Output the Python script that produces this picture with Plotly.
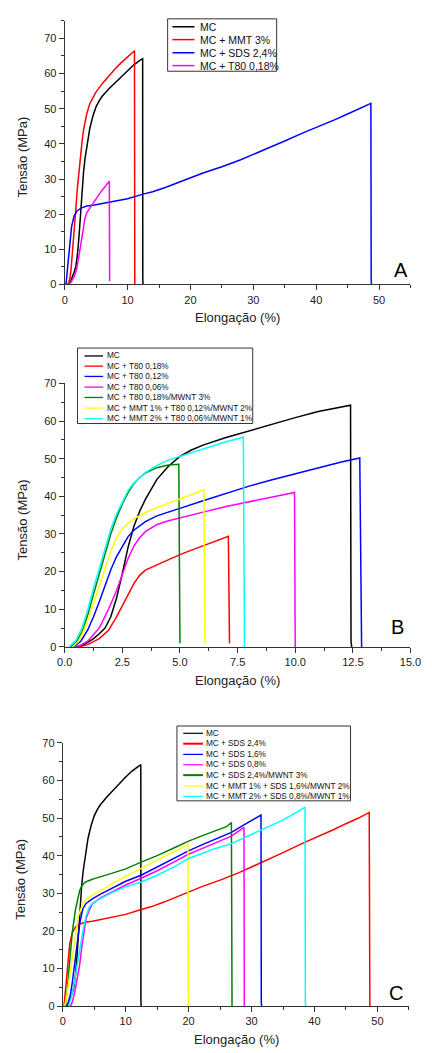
import plotly.graph_objects as go

W, H = 432, 1053

# ---------------- data (Elongação %, Tensão MPa) ----------------
MC_x = [0.5, 0.8, 1.0, 1.25, 1.5, 1.75, 2.0, 2.25, 2.5, 2.75, 3.0, 3.25, 3.5, 4.0, 4.5, 5.0,
        5.5, 6.0, 7.0, 8.0, 9.0, 10.0, 11.0, 12.0, 12.4, 12.42, 12.45]
MC_y = [0, 0.5, 1.2, 2.2, 3.5, 5.0, 8.0, 13.0, 19.5, 26.5, 32.0, 36.0, 39.2, 44.5, 48.0, 50.6,
        52.3, 53.6, 55.6, 57.4, 59.2, 60.9, 62.5, 63.8, 64.2, 1.5, 0]

MMT3_x = [0.5, 0.8, 1.0, 1.25, 1.5, 1.75, 2.0, 2.25, 2.5, 2.75, 3.0, 3.5, 4.0, 5.0, 6.0, 7.0,
          8.0, 9.0, 10.0, 11.0, 11.1, 11.15]
MMT3_y = [0, 1.5, 4.0, 9.0, 15.0, 21.0, 27.0, 32.0, 36.5, 40.5, 44.0, 48.5, 51.5, 54.8, 57.2, 59.4,
          61.3, 63.1, 64.8, 66.4, 66.5, 0]

SDS24_x = [0.2, 0.5, 0.8, 1.1, 1.5, 2.0, 2.7, 3.5, 4.7, 6.0, 8.0, 10.0, 12.45, 14.0, 16.0, 18.0,
           20.0, 22.0, 25.0, 26.8, 28.0, 30.0, 32.5, 35.0, 38.0, 40.0, 43.0, 45.0, 47.0, 48.7,
           48.75, 48.8]
SDS24_y = [0, 5.0, 11.0, 16.5, 19.5, 21.0, 21.8, 22.3, 22.6, 23.0, 23.6, 24.4, 25.7, 26.4, 27.6, 29.0,
           30.3, 31.7, 33.5, 34.6, 35.5, 37.0, 38.8, 40.8, 43.2, 44.6, 46.9, 48.5, 50.0, 51.5,
           1.0, 0]

T80_018_x = [0.6, 1.0, 1.5, 1.9, 2.25, 2.5, 2.75, 3.0, 3.25, 3.5, 4.0, 4.5, 5.0, 5.5, 6.0, 6.5,
             7.0, 7.1, 7.15]
T80_018_y = [0, 0.6, 2.2, 4.4, 8.0, 11.0, 14.0, 16.8, 19.0, 20.4, 21.8, 23.2, 24.5, 25.7, 26.9, 28.1,
             29.2, 29.4, 1.0]

T80_012_x = [0.4, 0.7, 1.0, 1.25, 1.5, 1.75, 2.0, 2.25, 2.5, 2.75, 3.0, 3.5, 4.0, 4.5, 5.0, 6.0,
             7.0, 8.0, 9.0, 10.0, 11.0, 12.0, 12.8, 12.85, 12.88]
T80_012_y = [0, 1.5, 4.5, 8.0, 12.0, 16.5, 20.5, 24.0, 26.5, 29.3, 31.0, 33.3, 34.8, 35.9, 36.8, 38.8,
             40.8, 42.7, 44.4, 46.0, 47.6, 49.1, 50.2, 1.0, 0]

T80_006_x = [0.55, 1.0, 1.5, 1.9, 2.25, 2.5, 2.75, 3.0, 3.25, 3.5, 4.0, 4.5, 5.0, 6.0, 7.0, 8.0,
             9.0, 9.9, 9.97, 10.0]
T80_006_y = [0, 1.5, 5.0, 10.0, 15.0, 19.5, 23.5, 26.8, 29.0, 30.6, 32.5, 33.5, 34.2, 35.8, 37.3, 38.6,
             39.8, 41.0, 41.0, 0]

T80_MWNT3_x = [0.25, 0.5, 0.75, 1.0, 1.25, 1.5, 1.75, 2.0, 2.25, 2.5, 2.75, 3.0, 3.25, 3.5, 4.0,
               4.5, 4.95, 5.0]
T80_MWNT3_y = [0, 1.2, 4.0, 8.5, 14.0, 19.5, 25.0, 30.0, 34.3, 38.0, 41.0, 43.3, 45.0, 46.2, 47.6,
               48.3, 48.5, 1.0]

MMT1_T80_x = [0.35, 0.6, 0.8, 1.0, 1.25, 1.5, 1.75, 2.0, 2.25, 2.5, 2.75, 3.0, 3.5, 4.0, 4.5, 5.0,
              5.5, 6.0, 6.04, 6.08]
MMT1_T80_y = [0, 1.5, 4.0, 7.0, 11.5, 16.0, 21.0, 25.5, 29.0, 31.3, 32.8, 34.0, 35.7, 37.0, 38.2, 39.3,
              40.4, 41.6, 41.7, 1.0]

MMT2_T80_x = [0.2, 0.5, 0.75, 1.0, 1.25, 1.5, 1.75, 2.0, 2.25, 2.5, 2.75, 3.0, 3.25, 3.5, 4.0, 4.5,
              5.0, 5.5, 6.0, 6.5, 7.0, 7.5, 7.75, 7.8]
MMT2_T80_y = [0, 1.8, 5.0, 9.8, 15.5, 21.0, 26.5, 31.3, 35.3, 38.6, 41.5, 43.5, 45.0, 46.3, 48.2, 49.6,
              50.6, 51.6, 52.6, 53.6, 54.5, 55.3, 55.7, 0]

SDS16_x = [0.7, 1.0, 1.2, 1.45, 1.67, 2.0, 2.2, 2.45, 2.7, 3.0, 3.2, 3.7, 4.7, 6.0, 8.0, 10.0,
           12.45, 15.0, 18.0, 19.9, 22.0, 24.0, 26.8, 28.8, 30.0, 31.5, 31.55, 31.6]
SDS16_y = [0, 1.5, 3.0, 5.5, 8.3, 13.0, 16.0, 19.5, 22.0, 24.5, 25.9, 27.3, 28.5, 29.8, 31.6, 33.2,
           34.8, 37.0, 39.6, 41.2, 42.8, 44.3, 46.2, 48.2, 49.4, 50.8, 1.0, 0]

SDS08_x = [1.2, 1.5, 2.0, 2.35, 2.68, 3.0, 3.2, 3.45, 3.7, 4.2, 4.7, 6.0, 8.0, 10.0, 12.45, 15.0,
           18.0, 19.9, 22.0, 24.0, 26.8, 28.8, 28.85]
SDS08_y = [0, 1.0, 4.5, 7.5, 11.0, 15.5, 18.0, 21.0, 23.3, 25.5, 27.2, 28.8, 30.6, 32.2, 34.0, 36.0,
           38.6, 40.3, 41.8, 43.2, 45.2, 47.5, 0]

SDS24_MWNT3_x = [0.4, 0.7, 1.0, 1.17, 1.5, 2.0, 2.5, 2.68, 3.0, 3.5, 4.2, 5.0, 7.0, 10.0, 12.45,
                 15.0, 18.0, 19.9, 22.0, 24.0, 26.0, 26.8, 26.85, 26.9]
SDS24_MWNT3_y = [0, 4.0, 10.0, 13.6, 19.5, 25.5, 29.5, 30.7, 31.9, 32.9, 33.4, 33.9, 34.9, 36.5, 38.3,
                 40.0, 42.3, 43.8, 45.2, 46.4, 47.7, 48.8, 1.0, 0]

MMT1_SDS_x = [0.3, 0.6, 1.0, 1.3, 1.67, 2.0, 2.5, 3.0, 3.45, 4.0, 4.7, 6.0, 8.0, 10.0, 12.45, 15.0,
              18.0, 19.9, 19.95]
MMT1_SDS_y = [0, 2.5, 7.0, 10.5, 15.3, 19.5, 24.0, 26.5, 27.9, 28.8, 29.5, 30.8, 32.7, 34.5, 36.5, 38.8,
              41.3, 43.0, 0]

MMT2_SDS_x = [0.9, 1.3, 1.8, 2.2, 2.68, 3.2, 3.7, 4.2, 4.7, 6.0, 8.0, 10.0, 12.45, 15.0, 18.0, 19.9,
              22.0, 24.0, 26.8, 30.0, 33.0, 35.0, 37.0, 38.5, 38.55, 38.6]
MMT2_SDS_y = [0, 2.0, 6.0, 10.0, 15.0, 20.0, 24.0, 26.3, 27.3, 28.6, 30.3, 31.7, 33.0, 34.8, 37.3, 39.2,
              40.5, 41.8, 43.2, 45.6, 47.8, 49.5, 51.4, 52.9, 1.0, 0]

A_names = ["MC", "MC + MMT 3%", "MC + SDS 2,4%", "MC + T80 0,18%"]
B_names = ["MC", "MC + T80 0,18%", "MC + T80 0,12%", "MC + T80 0,06%", "MC + T80 0,18%/MWNT 3%",
           "MC + MMT 1% + T80 0,12%/MWNT 2%", "MC + MMT 2% + T80 0,06%/MWNT 1%"]
C_names = ["MC", "MC + SDS 2,4%", "MC + SDS 1,6%", "MC + SDS 0,8%", "MC + SDS 2,4%/MWNT 3%",
           "MC + MMT 1% + SDS 1,6%/MWNT 2%", "MC + MMT 2% + SDS 0,8%/MWNT 1%"]

A_colors = ["#000000", "#FF0000", "#0000FF", "#FF00FF"]
BC_colors = ["#000000", "#FF0000", "#0000FF", "#FF00FF", "#008000", "#FFFF00", "#00FFFF"]

A_data = [(MC_x, MC_y), (MMT3_x, MMT3_y), (SDS24_x, SDS24_y), (T80_018_x, T80_018_y)]
B_data = [(MC_x, MC_y), (T80_018_x, T80_018_y), (T80_012_x, T80_012_y), (T80_006_x, T80_006_y),
          (T80_MWNT3_x, T80_MWNT3_y), (MMT1_T80_x, MMT1_T80_y), (MMT2_T80_x, MMT2_T80_y)]
C_data = [(MC_x, MC_y), (SDS24_x, SDS24_y), (SDS16_x, SDS16_y), (SDS08_x, SDS08_y),
          (SDS24_MWNT3_x, SDS24_MWNT3_y), (MMT1_SDS_x, MMT1_SDS_y), (MMT2_SDS_x, MMT2_SDS_y)]

# ---------------- layout helpers ----------------
def fx(px):
    return px / W


def fy(py):
    return 1 - py / H


FONT = "Arial, Liberation Sans, sans-serif"
AX = "#333333"

panels = [
    dict(letter="A", data=A_data, colors=A_colors, names=A_names,
         xpx=(59.3, 421.0), ypx=(15.0, 281.7), xr=[0, 55], xd=10, xm=5, yr=[0, 75], xfmt="d",
         letter_pos=(411, 267), ytitle_pos=(15, 153), xtitle_pos=(240, 315),
         leg_box=(167, 281, 13, 66), leg_line=(172, 195), leg_text=199,
         leg_rows=[21, 34, 47.3, 60.3], leg_font=10.5, leg_w=[1.5, 1.5, 1.5, 1.5]),
    dict(letter="B", data=B_data, colors=BC_colors, names=B_names,
         xpx=(59.3, 421.0), ypx=(381.7, 648.3), xr=[0, 15], xd=2.5, xm=1.25, yr=[0, 70], xfmt=".1f",
         letter_pos=(407, 628), ytitle_pos=(15, 520), xtitle_pos=(240, 682),
         leg_box=(72.7, 256, 346, 422.3), leg_line=(80, 99.5), leg_text=101.5,
         leg_rows=[354, 364.3, 374.7, 385.5, 396, 406.7, 417.5], leg_font=8.2,
         leg_w=[1.3] * 7),
    dict(letter="C", data=C_data, colors=BC_colors, names=C_names,
         xpx=(57.3, 419.3), ypx=(745.3, 1011.7), xr=[0, 55], xd=10, xm=5, yr=[0, 70], xfmt="d",
         letter_pos=(406, 998), ytitle_pos=(13.5, 883), xtitle_pos=(239, 1045),
         leg_box=(176.7, 358.3, 728.3, 804), leg_line=(183.3, 204), leg_text=205.5,
         leg_rows=[735.7, 746.2, 757, 767.5, 778, 789, 799.5], leg_font=8.2,
         leg_w=[1.2, 2.0, 1.2, 1.2, 2.0, 1.2, 1.2]),
]

fig = go.Figure()
shapes = []
annotations = []
layout_axes = {}

for i, p in enumerate(panels):
    n = "" if i == 0 else str(i + 1)
    xa, ya = "x" + n, "y" + n
    for (xs, ys), col in zip(p["data"], p["colors"]):
        fig.add_trace(go.Scatter(x=xs, y=ys, mode="lines", xaxis=xa, yaxis=ya,
                                 line=dict(color=col, width=1.5), showlegend=False,
                                 hoverinfo="skip"))
    tick_common = dict(showline=True, linecolor=AX, linewidth=1, ticks="outside", ticklen=5,
                       tickwidth=1, tickcolor=AX, showgrid=False, zeroline=False,
                       tickfont=dict(family=FONT, size=11, color="#222222"))
    layout_axes["xaxis" + n] = dict(
        domain=[fx(p["xpx"][0]), fx(p["xpx"][1])], range=p["xr"], anchor=ya,
        tick0=0, dtick=p["xd"], tickformat=p["xfmt"],
        minor=dict(tick0=0, dtick=p["xm"], ticks="outside", ticklen=3, tickcolor=AX, showgrid=False),
        **tick_common)
    layout_axes["yaxis" + n] = dict(
        domain=[fy(p["ypx"][1]), fy(p["ypx"][0])], range=p["yr"], anchor=xa,
        tick0=0, dtick=10,
        minor=dict(tick0=0, dtick=5, ticks="outside", ticklen=3, tickcolor=AX, showgrid=False),
        **tick_common)

    annotations.append(dict(text="Tensão (MPa)", x=fx(p["ytitle_pos"][0]), y=fy(p["ytitle_pos"][1]),
                            xref="paper", yref="paper", textangle=-90, showarrow=False,
                            xanchor="center", yanchor="middle",
                            font=dict(family=FONT, size=13, color="#222222")))
    annotations.append(dict(text="Elongação (%)", x=fx(p["xtitle_pos"][0]), y=fy(p["xtitle_pos"][1]),
                            xref="paper", yref="paper", showarrow=False,
                            xanchor="center", yanchor="middle",
                            font=dict(family=FONT, size=13, color="#222222")))
    annotations.append(dict(text=p["letter"], x=fx(p["letter_pos"][0]), y=fy(p["letter_pos"][1]),
                            xref="paper", yref="paper", showarrow=False,
                            xanchor="center", yanchor="middle",
                            font=dict(family=FONT, size=20, color="#000000")))
    x0, x1, y0, y1 = p["leg_box"]
    shapes.append(dict(type="rect", xref="paper", yref="paper", x0=fx(x0), x1=fx(x1),
                       y0=fy(y1), y1=fy(y0), line=dict(color=AX, width=1),
                       fillcolor="white", layer="above"))
    for name, col, ry, lw in zip(p["names"], p["colors"], p["leg_rows"], p["leg_w"]):
        shapes.append(dict(type="line", xref="paper", yref="paper",
                           x0=fx(p["leg_line"][0]), x1=fx(p["leg_line"][1]),
                           y0=fy(ry), y1=fy(ry), line=dict(color=col, width=lw), layer="above"))
        annotations.append(dict(text=name, x=fx(p["leg_text"]), y=fy(ry), xref="paper", yref="paper",
                                showarrow=False, xanchor="left", yanchor="middle",
                                font=dict(family=FONT, size=p["leg_font"], color="#111111")))

fig.update_layout(
    width=W, height=H, margin=dict(l=0, r=0, t=0, b=0),
    paper_bgcolor="white", plot_bgcolor="white",
    showlegend=False, shapes=shapes, annotations=annotations,
    **layout_axes,
)

fig.write_html("out.html")
